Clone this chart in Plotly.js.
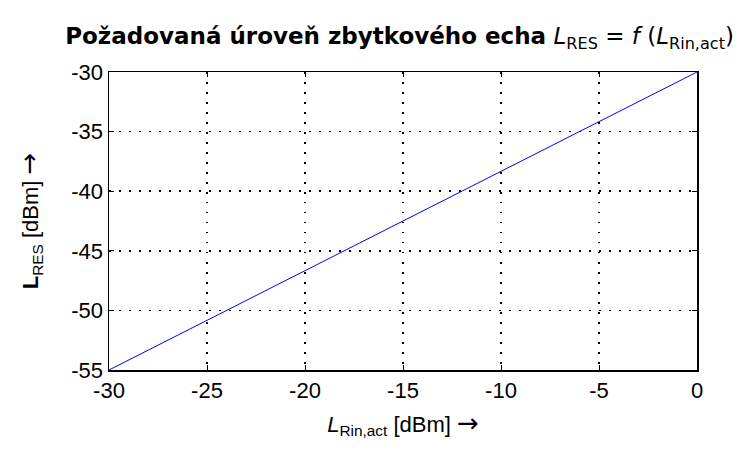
<!DOCTYPE html>
<html>
<head>
<meta charset="utf-8">
<script src="https://cdn.plot.ly/plotly-3.0.1.min.js"></script>
<style>html,body{margin:0;padding:0;background:#fff;}</style>
</head>
<body>
<div id="chart" style="width:740px;height:450px;"></div>
<script>
const xValues = [-30, -25, -20, -15, -10, -5, 0];
const yValues = [-55, -50.833, -46.667, -42.5, -38.333, -34.167, -30];
const xTicks = [-30, -25, -20, -15, -10, -5, 0];
const yTicks = [-55, -50, -45, -40, -35, -30];

const trace = {
  x: xValues, y: yValues, type: 'scatter', mode: 'lines',
  line: {color: '#0000ff', width: 1}, hoverinfo: 'none'
};

const axisCommon = {
  showline: true, mirror: 'ticks', linecolor: '#000', linewidth: 1.5,
  ticks: 'inside', ticklen: 5, tickcolor: '#000', tickwidth: 1,
  showgrid: true, gridcolor: '#000', griddash: '1.5px,8.5px', gridwidth: 1.5,
  zeroline: false,
  tickfont: {family: 'Liberation Sans, Arial, sans-serif', size: 22, color: '#000'}
};

const arrow = '<span style="font-family:DejaVu Sans;font-size:26px">→</span>';

const layout = {
  width: 740, height: 450,
  margin: {l: 109, r: 43, t: 72, b: 80},
  paper_bgcolor: '#fff', plot_bgcolor: '#fff',
  showlegend: false,
  title: {
    text: '<b>Požadovaná úroveň zbytkového echa</b> <i>L</i><sub>RES</sub> = <i>f</i> (<i>L</i><sub>Rin,act</sub>)',
    font: {family: 'DejaVu Sans, sans-serif', size: 23, color: '#000'},
    x: 0.54, xanchor: 'center', y: 0.92, yanchor: 'middle'
  },
  xaxis: Object.assign({}, axisCommon, {
    range: [-30, 0], tickvals: xTicks, ticktext: xTicks.map(String),
    title: {text: '<i>L</i><sub>Rin,act</sub> [dBm] ' + arrow, font: {family: 'Liberation Sans, Arial, sans-serif', size: 22, color: '#000'}, standoff: 14}
  }),
  yaxis: Object.assign({}, axisCommon, {
    range: [-55, -30], tickvals: yTicks, ticktext: yTicks.map(String),
    title: {text: '<b>L</b><sub>RES</sub> [dBm] ' + arrow, font: {family: 'Liberation Sans, Arial, sans-serif', size: 22, color: '#000'}, standoff: 26}
  })
};

Plotly.newPlot('chart', [trace], layout, {staticPlot: true, displayModeBar: false});
</script>
</body>
</html>
